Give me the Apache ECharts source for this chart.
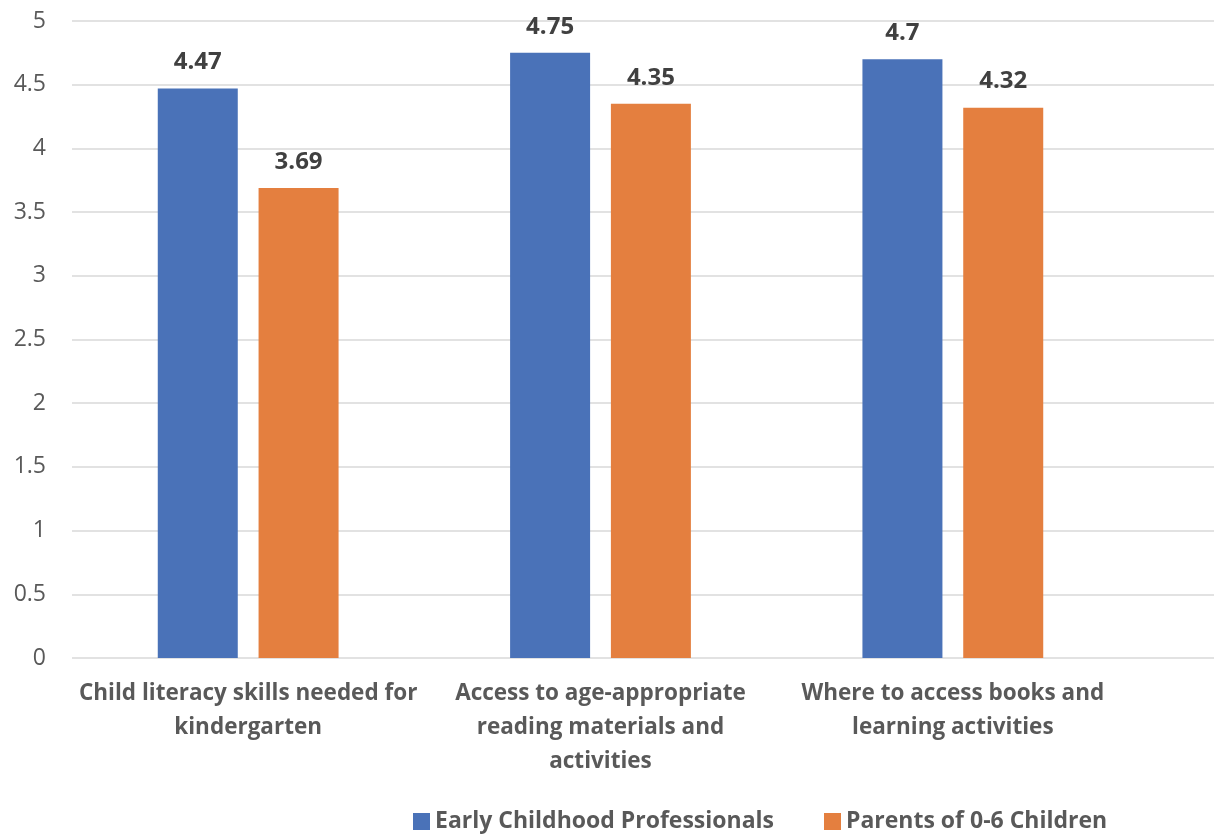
<!DOCTYPE html>
<html>
<head>
<meta charset="utf-8">
<script src="https://cdn.jsdelivr.net/npm/echarts@6/dist/echarts.min.js"></script>
<style>
  html, body { margin: 0; padding: 0; background: #fff; }
  #chart { width: 1214px; height: 838px; }
</style>
</head>
<body>
<div id="chart"></div>
<script>
const categories = [
  'Child literacy skills needed for\nkindergarten',
  'Access to age-appropriate\nreading materials and\nactivities',
  'Where to access books and\nlearning activities'
];
const professionals = [4.47, 4.75, 4.7];
const parents = [3.69, 4.35, 4.32];
const seriesNames = ['Early Childhood Professionals', 'Parents of 0-6 Children'];

const font = '"Open Sans", Lato, sans-serif';
const chart = echarts.init(document.getElementById('chart'));

const labelStyle = {
  show: true,
  position: 'top',
  distance: 14,
  fontFamily: font,
  fontWeight: 'bold',
  fontSize: 24,
  color: '#404040'
};

chart.setOption({
  animation: false,
  legend: {
    bottom: 0,
    left: 408,
    itemWidth: 17,
    itemHeight: 17,
    itemGap: 50,
    icon: 'rect',
    textStyle: { fontFamily: font, fontWeight: 'bold', fontSize: 23, color: '#595959' },
    data: seriesNames
  },
  grid: [
    // bars
    { left: 72, width: 1057, top: 21, height: 637 },
    // gridlines spanning full width
    { left: 72, right: 0, top: 21, height: 637 }
  ],
  xAxis: [
    {
      type: 'category',
      gridIndex: 0,
      data: categories,
      axisLine: { show: false },
      axisTick: { show: false },
      axisLabel: {
        margin: 19,
        fontFamily: font,
        fontWeight: 'bold',
        fontSize: 22.5,
        lineHeight: 34,
        color: '#595959',
        interval: 0
      }
    },
    {
      type: 'value',
      gridIndex: 1,
      min: 0,
      max: 1,
      show: false
    }
  ],
  yAxis: [
    {
      type: 'value',
      gridIndex: 0,
      min: 0,
      max: 5,
      interval: 0.5,
      axisLine: { show: false },
      axisTick: { show: false },
      axisLabel: { show: false },
      splitLine: { show: false }
    },
    {
      type: 'value',
      gridIndex: 1,
      min: 0,
      max: 5,
      interval: 0.5,
      axisLine: { show: false },
      axisTick: { show: false },
      axisLabel: {
        margin: 26,
        fontFamily: font,
        fontSize: 23,
        color: '#595959'
      },
      splitLine: { lineStyle: { color: '#d9d9d9', width: 1.5 } }
    }
  ],
  series: [
    {
      name: seriesNames[0],
      type: 'bar',
      xAxisIndex: 0,
      yAxisIndex: 0,
      data: professionals,
      barWidth: 80,
      barGap: '26%',
      itemStyle: { color: '#4a72b8' },
      label: labelStyle,
      z: 3
    },
    {
      name: seriesNames[1],
      type: 'bar',
      xAxisIndex: 0,
      yAxisIndex: 0,
      data: parents,
      barWidth: 80,
      barGap: '26%',
      itemStyle: { color: '#e47f3f' },
      label: labelStyle,
      z: 3
    }
  ]
});
</script>
</body>
</html>
